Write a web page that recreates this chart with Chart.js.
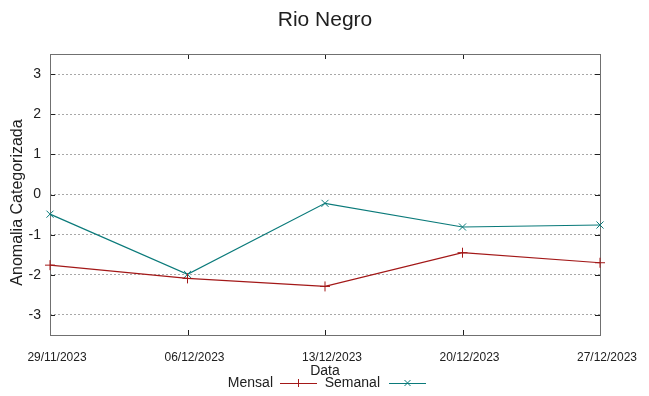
<!DOCTYPE html>
<html>
<head>
<meta charset="utf-8">
<script src="https://cdn.jsdelivr.net/npm/chart.js@4/dist/chart.umd.min.js"></script>
<style>
  html, body { margin: 0; padding: 0; background: #ffffff; }
  #wrap { width: 649px; height: 396px; }
</style>
</head>
<body>
<div id="wrap"><canvas id="chart" width="649" height="396"></canvas></div>
<script>
const categories = ["29/11/2023", "06/12/2023", "13/12/2023", "20/12/2023", "27/12/2023"];
const mensal = [-1.76, -2.09, -2.29, -1.45, -1.70];
const semanal = [-0.49, -1.99, -0.22, -0.81, -0.76];
const yTicks = [-3, -2, -1, 0, 1, 2, 3];

const corMensal = "#a31818";
const corSemanal = "#0a7a7a";

const molduraPlugin = {
    id: "moldura",
    beforeDatasetsDraw(chart) {
        const ctx = chart.ctx;
        const a = chart.chartArea;
        const x = chart.scales.x;
        const y = chart.scales.y;
        ctx.save();
        ctx.strokeStyle = "#202020";
        ctx.lineWidth = 1;
        ctx.beginPath();
        yTicks.forEach(function (v) {
            const py = Math.round(y.getPixelForValue(v)) + 0.5;
            ctx.moveTo(a.left, py); ctx.lineTo(a.left + 5, py);
            ctx.moveTo(a.right, py); ctx.lineTo(a.right - 5, py);
        });
        categories.forEach(function (c, i) {
            const px = Math.round(x.getPixelForValue(i)) + 0.5;
            ctx.moveTo(px, a.top); ctx.lineTo(px, a.top + 5);
            ctx.moveTo(px, a.bottom); ctx.lineTo(px, a.bottom - 5);
        });
        ctx.stroke();
        ctx.strokeStyle = "#707070";
        ctx.strokeRect(Math.round(a.left) + 0.5, Math.round(a.top) + 0.5,
            Math.round(a.right - a.left), Math.round(a.bottom - a.top));
        ctx.restore();
    },
    afterDraw(chart) {
        const ctx = chart.ctx;
        const a = chart.chartArea;
        ctx.save();
        ctx.fillStyle = "#202020";
        ctx.textBaseline = "middle";

        // titulo
        ctx.textAlign = "center";
        ctx.font = "21px 'Liberation Sans', Arial, sans-serif";
        ctx.fillText("Rio Negro", 325, 20);

        // titulo eixo y
        ctx.save();
        ctx.translate(18, (a.top + a.bottom) / 2 + 8);
        ctx.rotate(-Math.PI / 2);
        ctx.font = "16px 'Liberation Sans', Arial, sans-serif";
        ctx.fillText("Anomalia Categorizada", 0, 0);
        ctx.restore();

        // titulo eixo x
        ctx.font = "14px 'Liberation Sans', Arial, sans-serif";
        ctx.fillText("Data", 325, 371);

        // legenda
        const itens = [
            { ds: chart.data.datasets[0], textoFim: 273, ini: 280, fim: 317 },
            { ds: chart.data.datasets[1], textoFim: 380, ini: 389, fim: 426 }
        ];
        const ly = 383;
        itens.forEach(function (it) {
            ctx.textAlign = "right";
            ctx.fillStyle = "#202020";
            ctx.font = "14px 'Liberation Sans', Arial, sans-serif";
            ctx.fillText(it.ds.label, it.textoFim, ly);
            ctx.strokeStyle = it.ds.borderColor;
            ctx.lineWidth = 1;
            ctx.beginPath();
            ctx.moveTo(it.ini, ly + 0.5);
            ctx.lineTo(it.fim, ly + 0.5);
            ctx.stroke();
            const mx = (it.ini + it.fim) / 2;
            ctx.beginPath();
            if (it.ds.pointStyle === "cross") {
                ctx.moveTo(mx, ly - 4); ctx.lineTo(mx, ly + 4);
            } else {
                ctx.moveTo(mx - 3, ly - 3); ctx.lineTo(mx + 3, ly + 3);
                ctx.moveTo(mx - 3, ly + 3); ctx.lineTo(mx + 3, ly - 3);
            }
            ctx.stroke();
        });
        ctx.restore();
    }
};

new Chart(document.getElementById("chart"), {
    type: "line",
    data: {
        labels: categories,
        datasets: [{
            label: "Mensal",
            data: mensal,
            borderColor: corMensal,
            backgroundColor: corMensal,
            borderWidth: 1.2,
            pointStyle: "cross",
            pointRadius: 5,
            pointBorderWidth: 1,
            tension: 0,
            clip: false
        }, {
            label: "Semanal",
            data: semanal,
            borderColor: corSemanal,
            backgroundColor: corSemanal,
            borderWidth: 1.2,
            pointStyle: "crossRot",
            pointRadius: 5,
            pointBorderWidth: 1,
            tension: 0,
            clip: false
        }]
    },
    options: {
        responsive: false,
        animation: false,
        layout: { padding: { top: 54, right: 49, bottom: 0, left: 0 } },
        plugins: {
            legend: { display: false },
            title: { display: false },
            tooltip: { enabled: false }
        },
        scales: {
            x: {
                type: "category",
                offset: false,
                afterFit: function (s) { s.height = 61; },
                grid: { display: false, drawTicks: false },
                border: { display: false },
                ticks: {
                    color: "#202020",
                    padding: 15,
                    labelOffset: 7,
                    maxRotation: 0,
                    autoSkip: false,
                    font: { family: "'Liberation Sans', Arial, sans-serif", size: 12 }
                }
            },
            y: {
                min: -3.5,
                max: 3.5,
                afterFit: function (s) { s.width = 50; },
                afterBuildTicks: function (s) {
                    s.ticks = yTicks.map(function (v) { return { value: v }; });
                },
                grid: { color: "#a8a8a8", lineWidth: 1, drawTicks: false },
                border: { display: false, dash: [2, 2] },
                ticks: {
                    color: "#202020",
                    padding: 9,
                    font: { family: "'Liberation Sans', Arial, sans-serif", size: 14 }
                }
            }
        }
    },
    plugins: [molduraPlugin]
});
</script>
</body>
</html>
